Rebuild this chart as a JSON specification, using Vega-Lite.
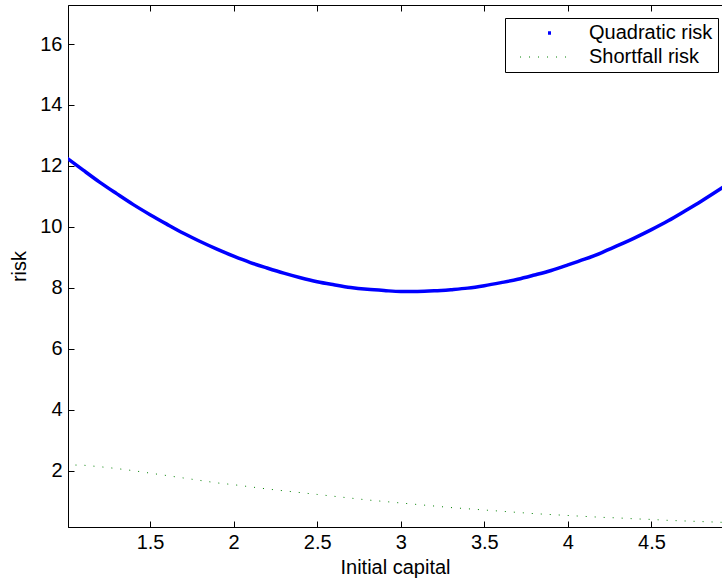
{
  "$schema": "https://vega.github.io/schema/vega-lite/v6.json",
  "width": 654,
  "height": 522,
  "autosize": "none",
  "padding": {"left": 68, "top": 5, "right": 0, "bottom": 59},
  "background": "white",
  "config": {
    "view": {"stroke": "black", "strokeWidth": 1},
    "font": "Liberation Sans",
    "axis": {
      "grid": false,
      "domainColor": "black",
      "tickColor": "black",
      "labelColor": "black",
      "titleColor": "black",
      "labelFontSize": 20,
      "titleFontSize": 20,
      "titleFontWeight": "normal",
      "labelFont": "Liberation Sans",
      "titleFont": "Liberation Sans",
      "tickSize": -6,
      "labelPadding": 12,
      "format": "~g"
    }
  },
  "datasets": {
    "quad": [
      {"x": 1.0, "risk": 12.27, "series": "Quadratic risk"},
      {"x": 1.1, "risk": 11.86, "series": "Quadratic risk"},
      {"x": 1.2, "risk": 11.46, "series": "Quadratic risk"},
      {"x": 1.3, "risk": 11.09, "series": "Quadratic risk"},
      {"x": 1.4, "risk": 10.73, "series": "Quadratic risk"},
      {"x": 1.5, "risk": 10.40, "series": "Quadratic risk"},
      {"x": 1.6, "risk": 10.09, "series": "Quadratic risk"},
      {"x": 1.7, "risk": 9.79, "series": "Quadratic risk"},
      {"x": 1.8, "risk": 9.52, "series": "Quadratic risk"},
      {"x": 1.9, "risk": 9.27, "series": "Quadratic risk"},
      {"x": 2.0, "risk": 9.04, "series": "Quadratic risk"},
      {"x": 2.1, "risk": 8.83, "series": "Quadratic risk"},
      {"x": 2.2, "risk": 8.65, "series": "Quadratic risk"},
      {"x": 2.3, "risk": 8.48, "series": "Quadratic risk"},
      {"x": 2.4, "risk": 8.33, "series": "Quadratic risk"},
      {"x": 2.5, "risk": 8.20, "series": "Quadratic risk"},
      {"x": 2.6, "risk": 8.10, "series": "Quadratic risk"},
      {"x": 2.7, "risk": 8.01, "series": "Quadratic risk"},
      {"x": 2.8, "risk": 7.95, "series": "Quadratic risk"},
      {"x": 2.9, "risk": 7.91, "series": "Quadratic risk"},
      {"x": 3.0, "risk": 7.88, "series": "Quadratic risk"},
      {"x": 3.1, "risk": 7.88, "series": "Quadratic risk"},
      {"x": 3.2, "risk": 7.90, "series": "Quadratic risk"},
      {"x": 3.3, "risk": 7.94, "series": "Quadratic risk"},
      {"x": 3.4, "risk": 7.99, "series": "Quadratic risk"},
      {"x": 3.5, "risk": 8.07, "series": "Quadratic risk"},
      {"x": 3.6, "risk": 8.17, "series": "Quadratic risk"},
      {"x": 3.7, "risk": 8.28, "series": "Quadratic risk"},
      {"x": 3.8, "risk": 8.42, "series": "Quadratic risk"},
      {"x": 3.9, "risk": 8.57, "series": "Quadratic risk"},
      {"x": 4.0, "risk": 8.75, "series": "Quadratic risk"},
      {"x": 4.1, "risk": 8.94, "series": "Quadratic risk"},
      {"x": 4.2, "risk": 9.15, "series": "Quadratic risk"},
      {"x": 4.3, "risk": 9.39, "series": "Quadratic risk"},
      {"x": 4.4, "risk": 9.64, "series": "Quadratic risk"},
      {"x": 4.5, "risk": 9.91, "series": "Quadratic risk"},
      {"x": 4.6, "risk": 10.20, "series": "Quadratic risk"},
      {"x": 4.7, "risk": 10.52, "series": "Quadratic risk"},
      {"x": 4.8, "risk": 10.85, "series": "Quadratic risk"},
      {"x": 4.9, "risk": 11.20, "series": "Quadratic risk"},
      {"x": 4.95, "risk": 11.38, "series": "Quadratic risk"}
    ],
    "short": [
      {"x": 1.0, "risk": 2.19, "series": "Shortfall risk"},
      {"x": 1.1, "risk": 2.18, "series": "Shortfall risk"},
      {"x": 1.2, "risk": 2.13, "series": "Shortfall risk"},
      {"x": 1.3, "risk": 2.07, "series": "Shortfall risk"},
      {"x": 1.4, "risk": 2.00, "series": "Shortfall risk"},
      {"x": 1.5, "risk": 1.92, "series": "Shortfall risk"},
      {"x": 1.6, "risk": 1.84, "series": "Shortfall risk"},
      {"x": 1.7, "risk": 1.76, "series": "Shortfall risk"},
      {"x": 1.8, "risk": 1.68, "series": "Shortfall risk"},
      {"x": 1.9, "risk": 1.60, "series": "Shortfall risk"},
      {"x": 2.0, "risk": 1.54, "series": "Shortfall risk"},
      {"x": 2.1, "risk": 1.47, "series": "Shortfall risk"},
      {"x": 2.2, "risk": 1.40, "series": "Shortfall risk"},
      {"x": 2.3, "risk": 1.34, "series": "Shortfall risk"},
      {"x": 2.4, "risk": 1.28, "series": "Shortfall risk"},
      {"x": 2.5, "risk": 1.22, "series": "Shortfall risk"},
      {"x": 2.6, "risk": 1.16, "series": "Shortfall risk"},
      {"x": 2.7, "risk": 1.10, "series": "Shortfall risk"},
      {"x": 2.8, "risk": 1.04, "series": "Shortfall risk"},
      {"x": 2.9, "risk": 0.99, "series": "Shortfall risk"},
      {"x": 3.0, "risk": 0.94, "series": "Shortfall risk"},
      {"x": 3.1, "risk": 0.89, "series": "Shortfall risk"},
      {"x": 3.2, "risk": 0.84, "series": "Shortfall risk"},
      {"x": 3.3, "risk": 0.79, "series": "Shortfall risk"},
      {"x": 3.4, "risk": 0.75, "series": "Shortfall risk"},
      {"x": 3.5, "risk": 0.71, "series": "Shortfall risk"},
      {"x": 3.6, "risk": 0.67, "series": "Shortfall risk"},
      {"x": 3.7, "risk": 0.63, "series": "Shortfall risk"},
      {"x": 3.8, "risk": 0.59, "series": "Shortfall risk"},
      {"x": 3.9, "risk": 0.56, "series": "Shortfall risk"},
      {"x": 4.0, "risk": 0.53, "series": "Shortfall risk"},
      {"x": 4.1, "risk": 0.50, "series": "Shortfall risk"},
      {"x": 4.2, "risk": 0.47, "series": "Shortfall risk"},
      {"x": 4.3, "risk": 0.45, "series": "Shortfall risk"},
      {"x": 4.4, "risk": 0.42, "series": "Shortfall risk"},
      {"x": 4.5, "risk": 0.40, "series": "Shortfall risk"},
      {"x": 4.6, "risk": 0.37, "series": "Shortfall risk"},
      {"x": 4.7, "risk": 0.35, "series": "Shortfall risk"},
      {"x": 4.8, "risk": 0.33, "series": "Shortfall risk"},
      {"x": 4.9, "risk": 0.31, "series": "Shortfall risk"},
      {"x": 4.95, "risk": 0.30, "series": "Shortfall risk"}
    ]
  },
  "layer": [
    {
      "data": {"name": "quad"},
      "mark": {"type": "line", "clip": true, "interpolate": "monotone"},
      "encoding": {
        "x": {
          "field": "x", "type": "quantitative",
          "scale": {"domain": [1.009, 4.922], "nice": false, "zero": false},
          "axis": {"orient": "bottom", "title": "Initial capital", "values": [1.5, 2, 2.5, 3, 3.5, 4, 4.5], "labelPadding": 11, "titlePadding": 5}
        },
        "y": {
          "field": "risk", "type": "quantitative",
          "scale": {"domain": [0.152, 17.28], "nice": false, "zero": false},
          "axis": {"title": "risk", "values": [2, 4, 6, 8, 10, 12, 14, 16], "labelPadding": 12, "titlePadding": 10}
        },
        "color": {
          "field": "series", "type": "nominal",
          "scale": {"domain": ["Quadratic risk", "Shortfall risk"], "range": ["#0000ff", "#008000"]},
          "legend": {
            "title": null,
            "orient": "none",
            "legendX": 437,
            "legendY": 13,
            "strokeColor": "black",
            "fillColor": "white",
            "padding": 5,
            "cornerRadius": 0,
            "symbolType": "stroke",
            "symbolSize": 2700,
            "symbolOffset": 8,
            "clipHeight": 20,
            "labelFontSize": 20,
            "labelFont": "Liberation Sans",
            "labelColor": "black",
            "labelOffset": 15,
            "rowPadding": 4
          }
        },
        "strokeWidth": {
          "field": "series", "type": "nominal",
          "scale": {"domain": ["Quadratic risk", "Shortfall risk"], "range": [3.5, 1]}
        }
      }
    },
    {
      "data": {"name": "short"},
      "mark": {"type": "line", "clip": true, "strokeCap": "butt"},
      "encoding": {
        "x": {
          "field": "x", "type": "quantitative",
          "axis": {"orient": "top", "title": null, "labels": false, "domain": false, "values": [1.5, 2, 2.5, 3, 3.5, 4, 4.5]}
        },
        "y": {"field": "risk", "type": "quantitative"},
        "color": {"field": "series", "type": "nominal"},
        "strokeWidth": {"field": "series", "type": "nominal"},
        "strokeDash": {
          "field": "series", "type": "nominal",
          "scale": {"domain": ["Quadratic risk", "Shortfall risk"], "range": [[0, 28, 3, 200], [1, 8]]}
        }
      }
    }
  ],
  "resolve": {"axis": {"x": "independent"}}
}
